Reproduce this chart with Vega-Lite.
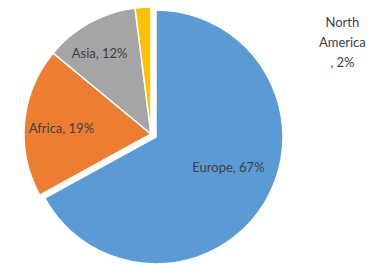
{
  "$schema": "https://vega.github.io/schema/vega-lite/v6.json",
  "width": 302,
  "height": 268,
  "autosize": "none",
  "padding": {"left": 0, "top": 0, "right": 70, "bottom": -3},
  "background": "white",
  "data": {
    "values": [
      {"region": "Europe", "share": 67, "order": 1, "label": "Europe, 67%"},
      {"region": "Africa", "share": 19, "order": 2, "label": "Africa, 19%"},
      {"region": "Asia", "share": 12, "order": 3, "label": "Asia, 12%"},
      {"region": "North America", "share": 2, "order": 4, "label": "North\nAmerica\n, 2%"}
    ]
  },
  "encoding": {
    "theta": {"field": "share", "type": "quantitative", "stack": true},
    "order": {"field": "order", "type": "quantitative"}
  },
  "layer": [
    {
      "mark": {
        "type": "arc",
        "outerRadius": 127,
        "stroke": "white",
        "strokeWidth": 1.5,
        "xOffset": {"expr": "datum.region === 'Europe' ? 5 : 0"},
        "yOffset": {"expr": "datum.region === 'Europe' ? 3 : 0"}
      },
      "encoding": {
        "color": {
          "field": "region",
          "type": "nominal",
          "scale": {
            "domain": ["Europe", "Africa", "Asia", "North America"],
            "range": ["#5B9BD5", "#ED7D31", "#A5A5A5", "#FFC000"]
          },
          "legend": null
        }
      }
    },
    {
      "mark": {
        "type": "text",
        "radius": 90,
        "font": "Lato",
        "fontSize": 13,
        "letterSpacing": 1.3,
        "color": "#404040",
        "lineBreak": "\n",
        "lineHeight": 20,
        "align": "center",
        "baseline": "middle",
        "dx": {"expr": "datum.region === 'North America' ? 197 : (datum.region === 'Asia' ? -8 : 0)"},
        "dy": {"expr": "datum.region === 'North America' ? -21 : (datum.region === 'Europe' ? -12 : (datum.region === 'Africa' ? 3 : -1))"}
      },
      "encoding": {
        "text": {"field": "label", "type": "nominal"}
      }
    }
  ]
}
